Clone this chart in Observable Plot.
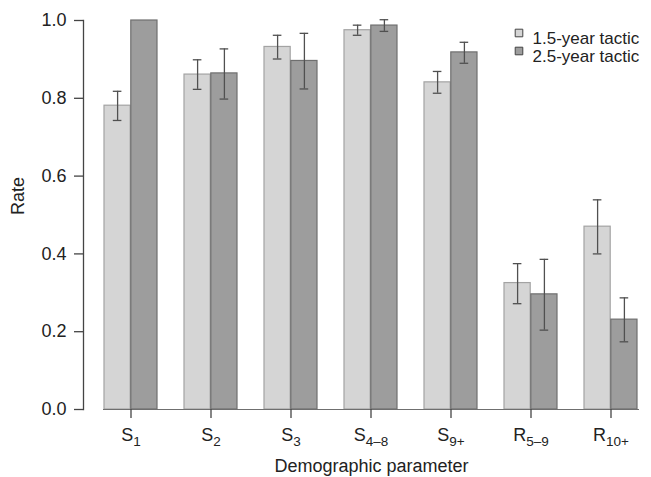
<!DOCTYPE html>
<html>
<head>
<meta charset="utf-8">
<script src="https://cdn.jsdelivr.net/npm/d3@7"></script>
<script src="https://cdn.jsdelivr.net/npm/@observablehq/plot@0.6"></script>
<style>
  html, body { margin: 0; padding: 0; background: #fff; }
  svg { font-family: "Liberation Sans", Arial, Helvetica, sans-serif; }
</style>
</head>
<body>
<div id="chart"></div>
<script>
// ---- data ----
const catMain = ["S", "S", "S", "S", "S", "R", "R"];
const catSub  = ["1", "2", "3", "4–8", "9+", "5–9", "10+"];
const categories = catMain.map((m, i) => m + catSub[i]);
const series = ["1.5-year tactic", "2.5-year tactic"];
const rate15 = [0.781, 0.861, 0.932, 0.975, 0.841, 0.325, 0.470];
const lo15   = [0.743, 0.823, 0.901, 0.962, 0.813, 0.272, 0.400];
const hi15   = [0.818, 0.899, 0.962, 0.988, 0.869, 0.375, 0.539];
const rate25 = [1.000, 0.864, 0.896, 0.987, 0.918, 0.296, 0.231];
const lo25   = [null,  0.798, 0.824, 0.972, 0.890, 0.204, 0.174];
const hi25   = [null,  0.927, 0.967, 1.002, 0.944, 0.386, 0.287];
const yTicks = [0, 0.2, 0.4, 0.6, 0.8, 1.0];

const fills = ["#d5d5d5", "#9d9d9d"];
const strokes = ["#a3a3a3", "#6f6f6f"];

// ---- layout ----
const W = 651, H = 477;
const mL = 83, mR = 12, mT = 20, mB = 68, gapL = 20;
const padInner = 1 / 3;
const step = (W - mR - mL - gapL) / (categories.length - padInner);
const bw = step * (1 - padInner);
const capHalf = 4.6;

const rows15 = categories.map((c, i) => ({c, v: rate15[i], lo: lo15[i], hi: hi15[i]}));
const rows25 = categories.map((c, i) => ({c, v: rate25[i], lo: lo25[i], hi: hi25[i]}));
const err25 = rows25.filter(d => d.lo != null);

const errMarks = (rows, k) => {
  const off = k === 0 ? -bw / 4 : bw / 4;
  const iL = k === 0 ? bw / 4 - capHalf : 3 * bw / 4 - capHalf;
  const iR = k === 0 ? 3 * bw / 4 - capHalf : bw / 4 - capHalf;
  const st = {stroke: "#505050", strokeWidth: 1.3};
  return [
    Plot.ruleX(rows, {x: "c", y1: "lo", y2: "hi", dx: off, ...st}),
    Plot.tickY(rows, {x: "c", y: "lo", insetLeft: iL, insetRight: iR, ...st}),
    Plot.tickY(rows, {x: "c", y: "hi", insetLeft: iL, insetRight: iR, ...st})
  ];
};

const legend = series.flatMap((s, i) => [
  Plot.dot([s], {frameAnchor: "top-left", dx: 518.5 - mL, dy: 12.5 + 18 * i,
    symbol: "square", r: 4.3, fill: fills[i], stroke: "#444", strokeWidth: 1}),
  Plot.text([s], {frameAnchor: "top-left", dx: 532 - mL, dy: 11.5 + 18 * i,
    text: d => d, textAnchor: "start", fontSize: 17, fill: "#222"})
]);

const chart = Plot.plot({
  width: W, height: H,
  marginLeft: mL, marginRight: mR, marginTop: mT, marginBottom: mB,
  style: {fontFamily: '"Liberation Sans", Arial, Helvetica, sans-serif', fontSize: "18px", color: "#222", background: "#fff"},
  x: {domain: categories, insetLeft: gapL, paddingInner: padInner, paddingOuter: 0, label: null},
  y: {domain: [0, 1], label: null},
  marks: [
    Plot.barY(rows15, {x: "c", y: "v", insetRight: bw / 2, fill: fills[0], stroke: strokes[0], strokeWidth: 1.2}),
    Plot.barY(rows25, {x: "c", y: "v", insetLeft: bw / 2, fill: fills[1], stroke: strokes[1], strokeWidth: 1.2}),
    Plot.ruleY([0], {insetLeft: gapL, stroke: "#6f6f6f", strokeWidth: 1.2}),
    ...errMarks(rows15, 0),
    ...errMarks(err25, 1),
    Plot.frame({anchor: "left", stroke: "#444", strokeWidth: 1.3}),
    Plot.axisY({ticks: yTicks, tickFormat: d3.format(".1f"), tickSize: 9, tickPadding: 8,
      fontSize: 18, stroke: "#444", strokeWidth: 1.3, fill: "#222", label: null}),
    Plot.axisX({tickSize: 9, tickPadding: 10, fontSize: 18, stroke: "#444", strokeWidth: 1.3, fill: "#222", label: null}),
    Plot.text(["Rate"], {frameAnchor: "left", rotate: -90, dx: -65, text: d => d, fontSize: 18, fill: "#222"}),
    Plot.text(["Demographic parameter"], {frameAnchor: "bottom", dx: gapL / 2, dy: 62, lineAnchor: "bottom",
      text: d => d, fontSize: 18, fill: "#222"}),
    ...legend
  ]
});

// subscripts on x tick labels
d3.select(chart).selectAll('g[aria-label="x-axis tick label"] text').each(function (_, i) {
  const t = d3.select(this);
  t.text(null);
  t.append("tspan").text(catMain[i]);
  t.append("tspan").attr("font-size", 13.5).attr("dy", 5).text(catSub[i]);
});

document.getElementById("chart").appendChild(chart);
</script>
</body>
</html>
